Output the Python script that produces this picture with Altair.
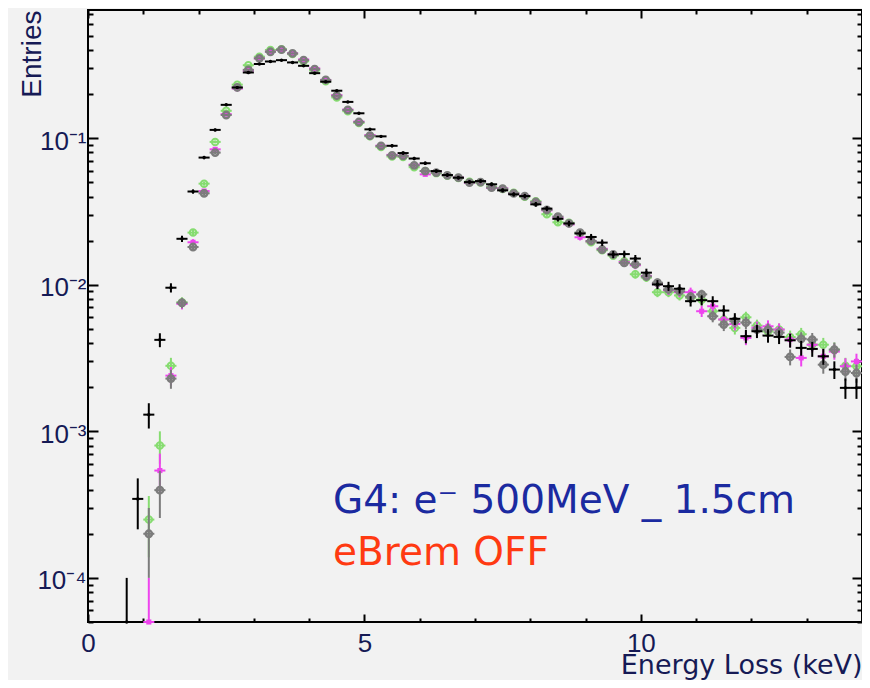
import math
import altair as alt
import pandas as pd

# ---------------- data ----------------
energy = [0.7, 0.9, 1.1, 1.3, 1.5, 1.7, 1.9, 2.1, 2.3, 2.5,
          2.7, 2.9, 3.1, 3.3, 3.5, 3.7, 3.9, 4.1, 4.3, 4.5,
          4.7, 4.9, 5.1, 5.3, 5.5, 5.7, 5.9, 6.1, 6.3, 6.5,
          6.7, 6.9, 7.1, 7.3, 7.5, 7.7, 7.9, 8.1, 8.3, 8.5,
          8.7, 8.9, 9.1, 9.3, 9.5, 9.7, 9.9, 10.1, 10.3, 10.5,
          10.7, 10.9, 11.1, 11.3, 11.5, 11.7, 11.9, 12.1, 12.3, 12.5,
          12.7, 12.9, 13.1, 13.3, 13.5, 13.7, 13.9]

black = [5e-5, 3.46e-4, 1.30e-3, 4.21e-3, 9.55e-3, 0.0206, 0.0433, 0.0738, 0.114, 0.169,
         0.222, 0.281, 0.321, 0.334, 0.341, 0.329, 0.312, 0.278, 0.243, 0.211,
         0.177, 0.148, 0.115, 0.103, 0.0888, 0.0792, 0.0727, 0.0675, 0.0597, 0.0561,
         0.0538, 0.0502, 0.0510, 0.0485, 0.0441, 0.0414, 0.0403, 0.0354, 0.0331, 0.0282,
         0.0262, 0.0224, 0.0212, 0.0194, 0.0161, 0.0162, 0.0151, 0.0121, 0.01005, 0.00978,
         0.0094, 0.00773, 0.00785, 0.00773, 0.00667, 0.00586, 0.00446, 0.00482, 0.0045, 0.00441,
         0.00418, 0.00371, 0.00365, 0.00325, 0.00264, 0.00198, 0.00198]

gray = [None, None, 2.0e-4, 3.97e-4, 2.29e-3, 7.53e-3, 0.0181, 0.0421, 0.0798, 0.144,
        0.222, 0.293, 0.351, 0.389, 0.402, 0.379, 0.341, 0.296, 0.250, 0.195,
        0.156, 0.129, 0.104, 0.0886, 0.0765, 0.0757, 0.0653, 0.0597, 0.0583, 0.0558,
        0.0538, 0.0498, 0.0502, 0.0460, 0.0453, 0.0421, 0.0403, 0.0367, 0.0324, 0.0292,
        0.0262, 0.0227, 0.0199, 0.0174, 0.0161, 0.0141, 0.0138, 0.0114, 0.01033, 0.0093,
        0.00904, 0.0083, 0.0086, 0.0061, 0.00535, 0.00564, 0.00552, 0.00495, 0.00495, 0.00472,
        0.00322, 0.00428, 0.00423, 0.00285, 0.00361, 0.00256, 0.0025]

green = [None, None, 2.5e-4, 8.0e-4, 2.8e-3, 7.6e-3, 0.0227, 0.049, 0.0944, 0.154,
         0.232, 0.315, 0.36, 0.40, 0.405, 0.375, 0.335, 0.29, 0.245, 0.19,
         0.153, 0.127, 0.103, 0.087, 0.075, 0.0745, 0.0634, 0.0597, 0.0578, 0.0555,
         0.0535, 0.0505, 0.0498, 0.0465, 0.045, 0.0425, 0.0398, 0.0372, 0.0303, 0.0267,
         0.0265, 0.0225, 0.0195, 0.0172, 0.0158, 0.0145, 0.0118, 0.0112, 0.0089, 0.0089,
         0.00846, 0.00815, 0.0079, 0.0066, 0.00579, 0.00508, 0.0060, 0.00527, 0.0048, 0.00495,
         0.0044, 0.0046, 0.0039, 0.0039, 0.00361, 0.0028, 0.00278]

magenta = [None, None, 5e-5, 5.4e-4, 2.4e-3, 7.4e-3, 0.0195, 0.0436, 0.084, 0.146,
           0.218, 0.29, 0.35, 0.39, 0.40, 0.38, 0.345, 0.30, 0.25, 0.197,
           0.157, 0.13, 0.105, 0.089, 0.077, 0.0755, 0.066, 0.0567, 0.059, 0.056,
           0.054, 0.0495, 0.0505, 0.0458, 0.0455, 0.042, 0.0405, 0.0365, 0.0322, 0.0288,
           0.0258, 0.0211, 0.0198, 0.0176, 0.0162, 0.0143, 0.0136, 0.0115, 0.0101, 0.0092,
           0.0089, 0.0089, 0.0066, 0.00714, 0.0058, 0.0054, 0.00434, 0.0051, 0.00521, 0.00495,
           0.00423, 0.00317, 0.0039, 0.00325, 0.0035, 0.00278, 0.003]

x_label_values = [0, 5, 10]
x_tick_values = list(range(0, 15))
y_label_values = [1e-4, 1e-3, 1e-2, 1e-1]

title_text = "G4: e\u207b 500MeV _ 1.5cm"
subtitle_text = "eBrem OFF"

# ---------------- styling ----------------
UNIT = 5e-5            # weight of one entry (Poisson error bars)
HALF_BIN = 0.1
YMIN, YMAX = 5e-5, 0.75
W, H = 774, 612
BG = "#f2f2f2"
NAVY = "#161a55"
BLUE = "#1b2aa0"
RED = "#ff3a12"
FONT = "Liberation Sans"
ANNO_FONT = "DejaVu Sans"

y_tick_values = sorted({round(m * 10.0 ** p, 12) for p in range(-5, 0) for m in range(1, 10)
                        if YMIN <= m * 10.0 ** p <= YMAX})


def make_df(vals):
    rows = []
    for e, v in zip(energy, vals):
        if v is None:
            continue
        err = math.sqrt(v * UNIT)
        rows.append({"e": e, "v": v, "lo": max(v - err, YMIN), "hi": v + err,
                     "xlo": e - HALF_BIN, "xhi": e + HALF_BIN})
    return pd.DataFrame(rows)


xs = alt.Scale(domain=[0, 14], nice=False, zero=False)
ys = alt.Scale(type="log", domain=[YMIN, YMAX], nice=False)

Y_MAJOR = "abs(log(datum.value)/LN10 - round(log(datum.value)/LN10)) < 0.001"
X_MAJOR = "datum.value % 5 == 0"


def tick_axis(orient, offset, values, test, major, minor):
    return alt.Axis(orient=orient, offset=offset, values=values, labels=False,
                    domain=False, grid=False, ticks=True, tickColor="black", tickWidth=2,
                    tickSize={"condition": {"test": test, "value": major}, "value": minor},
                    title=None)


x_label_axis = alt.Axis(orient="bottom", values=x_label_values, ticks=False, tickSize=0,
                        domain=False, grid=False, labelFont=FONT, labelFontSize=26,
                        labelColor=NAVY, labelPadding=8, labelFlush=False,
                        title="Energy Loss (keV)", titleFont=ANNO_FONT, titleFontSize=27,
                        titleFontWeight="normal", titleColor=NAVY, titleAlign="right",
                        titleBaseline="alphabetic", titleX=W, titleY=51)
y_label_axis = alt.Axis(orient="left", values=y_label_values, ticks=False, tickSize=0,
                        domain=False, grid=False, labelFont=FONT, labelFontSize=26,
                        labelColor=NAVY, labelPadding=2, labelOffset=3,
                        labelExpr="['10\u207b\u2074','10\u207b\u00b3','10\u207b\u00b2','10\u207b\u00b9'][round(log(datum.value)/LN10)+4]",
                        title="Entries", titleFont=FONT, titleFontSize=28,
                        titleFontWeight="normal", titleColor=NAVY, titleAngle=270,
                        titleAlign="right", titleBaseline="alphabetic", titleX=-48, titleY=0)

axes_sets = [
    (x_label_axis, y_label_axis),
    (tick_axis("top", -H, x_tick_values, X_MAJOR, 8, 4),
     tick_axis("right", -W, y_tick_values, Y_MAJOR, 10, 5)),
    (tick_axis("bottom", -H, x_tick_values, X_MAJOR, 8, 4),
     tick_axis("left", -W, y_tick_values, Y_MAJOR, 10, 5)),
]


def series_layers(vals, color, shape, size, filled, sw, with_axes):
    df = make_df(vals)
    base = alt.Chart(df)
    ax = axes_sets if with_axes else [(None, None)] * 3
    vr = base.mark_rule(color=color, strokeWidth=2).encode(
        x=alt.X("e:Q", scale=xs, axis=ax[0][0]),
        y=alt.Y("lo:Q", scale=ys, axis=ax[0][1]),
        y2="hi:Q")
    hr = base.mark_rule(color=color, strokeWidth=2).encode(
        x=alt.X("xlo:Q", scale=xs, axis=ax[1][0]),
        x2="xhi:Q",
        y=alt.Y("v:Q", scale=ys, axis=ax[1][1]))
    pt = base.mark_point(shape=shape, size=size, filled=filled, color=color,
                         strokeWidth=sw, opacity=1).encode(
        x=alt.X("e:Q", scale=xs, axis=ax[2][0]),
        y=alt.Y("v:Q", scale=ys, axis=ax[2][1]))
    return [vr, hr, pt]


layers = []
layers += series_layers(green, "#86dc70", "circle", 42, False, 2, True)
layers += series_layers(magenta, "#ee44ee", "square", 26, True, 1, False)
layers += series_layers(gray, "#7c7c7c", "circle", 40, False, 2.5, False)
layers += series_layers(black, "#000000", "circle", 12, True, 1, False)

t1 = alt.Chart(pd.DataFrame({"t": [title_text]})).mark_text(
    align="left", baseline="alphabetic", font=ANNO_FONT, fontSize=39, color=BLUE
).encode(x=alt.value(245), y=alt.value(503), text="t:N")
t2 = alt.Chart(pd.DataFrame({"t": [subtitle_text]})).mark_text(
    align="left", baseline="alphabetic", font=ANNO_FONT, fontSize=39, color=RED
).encode(x=alt.value(245), y=alt.value(555), text="t:N")
layers += [t1, t2]

chart = alt.layer(*layers).resolve_axis(
    x="independent", y="independent"
).properties(
    width=W, height=H, background=BG,
    padding={"left": 80, "top": 2, "right": 0, "bottom": 58},
    autosize=alt.AutoSizeParams(type="none"),
).configure_view(stroke="black", strokeWidth=2)

chart.save("out.html", embed_options={"renderer": "svg", "actions": False})
